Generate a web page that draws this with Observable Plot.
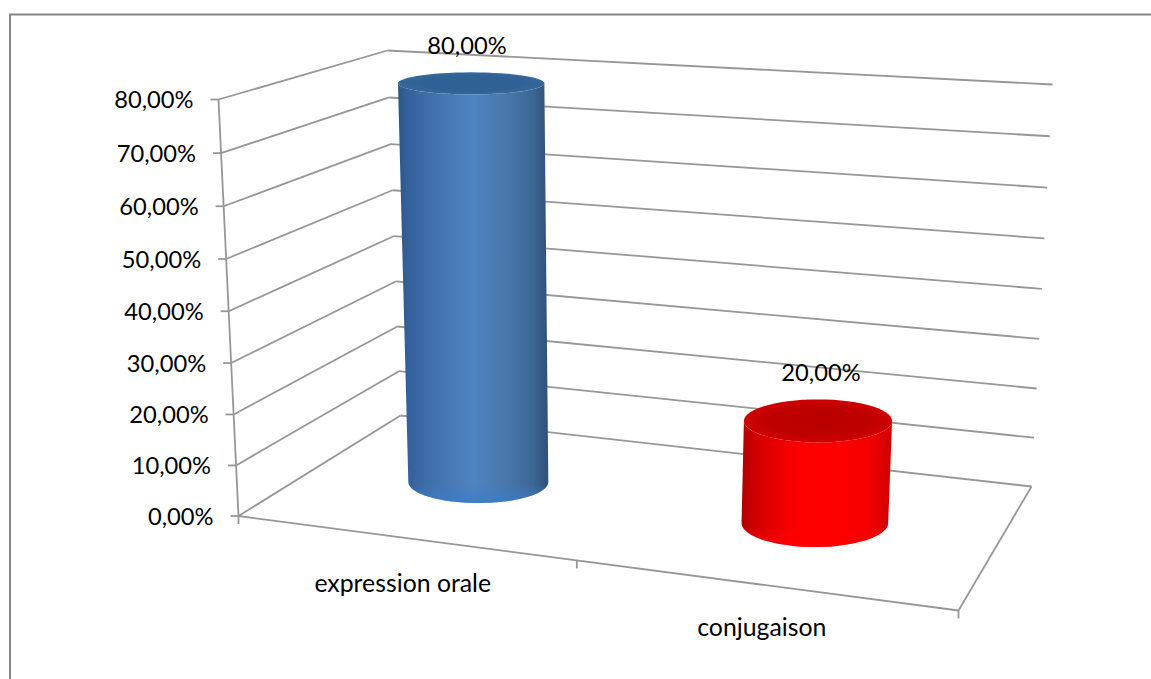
<!DOCTYPE html>
<html>
<head>
<meta charset="utf-8">
<script src="https://cdn.jsdelivr.net/npm/d3@7"></script>
<script src="https://cdn.jsdelivr.net/npm/@observablehq/plot@0.6"></script>
<style>
  html, body { margin: 0; padding: 0; background: #fff; }
  #chart { width: 1151px; height: 679px; overflow: hidden; }
  svg { display: block; }
</style>
</head>
<body>
<div id="chart"></div>
<script>
// ---- data ----
const categories = ["expression orale", "conjugaison"];
const seriesValues = [80, 20];
const valueTicks = [0, 10, 20, 30, 40, 50, 60, 70, 80];
const frac = v => d3.format(".2f")(v).replace(".", ",") + "%";

// ---- 3D box layout: screen position of the box corners [x, y] ----
const floorCorners = {fl: [238, 515.5], fr: [958, 610], bl: [400, 415], br: [1031, 486]};
const topCorners   = {fl: [218, 99],    fr: [985, 150], bl: [387, 50],  br: [1052, 84]};
const warp = (t, k) => t / (t + (1 - t) * k);
const bilinear = (q, u, d) => [0, 1].map(i =>
  (1 - d) * ((1 - u) * q.fl[i] + u * q.fr[i]) + d * ((1 - u) * q.bl[i] + u * q.br[i]));
function project(c, d, v) {
  const U = warp(c, 1.128), V = warp(v / 80, 1.034);
  const a = bilinear(floorCorners, U, d), b = bilinear(topCorners, U, d);
  return {x: a[0] + (b[0] - a[0]) * V, y: a[1] + (b[1] - a[1]) * V};
}

// cylinder look: ellipse radii depend on the category and height
const catPos = i => (i + 0.5) / categories.length;
const cylDepth = 0.525;
const cylShift = [1.2, 2];
const rx0 = [70, 73.3], ry0 = [21, 24];
const rxAt = (i, v) => rx0[i] + 0.04 * v;
const ryAt = (i, v) => ry0[i] - 0.125 * v;
const sideFills = ["url(#blueSide)", "url(#redSide)"];
const topFills = ["url(#blueTop)", "url(#redTop)"];
const rimFills = ["url(#blueRim)", "url(#redRim)"];
const labelNudge = [[-3, -37], [5, -47]];
const catNudge = [[0, 47], [0, 43]];
const FONT = "Lato, Carlito, Calibri, sans-serif";
const GRID = "#979797";
const NUM_SIZE = 23.7, CAT_SIZE = 24.8;

const steps = d3.range(0, 61);
const arc = (i, v, from, to) => {
  const ctr = project(catPos(i), cylDepth, v);
  return steps.map(s => {
    const th = from + (to - from) * s / 60;
    return {x: ctr.x + cylShift[i] + rxAt(i, v) * Math.cos(th), y: ctr.y + ryAt(i, v) * Math.sin(th)};
  });
};
const sideShape = (i, v) => [...arc(i, 0, Math.PI, 0), ...arc(i, v, 0, Math.PI)];
const topShape = (i, v) => arc(i, v, 0, 2 * Math.PI);
const rimShape = i => [...arc(i, 0, Math.PI, 0), ...arc(i, 4, 0, Math.PI)];

// rows for the box
const backGrid = valueTicks.map(v => ({a: project(0, 1, v), b: project(1, 1, v)}));
const sideGrid = valueTicks.map(v => ({a: project(0, 0, v), b: project(0, 1, v)}));
const floorEdges = [
  {a: project(0, 0, 0), b: project(1, 0, 0)},
  {a: project(1, 0, 0), b: project(1, 1, 0)}
];
const segs = [...backGrid, ...sideGrid, ...floorEdges];
const axisLine = [{a: project(0, 0, 0), b: project(0, 0, 80)}];
const yTickRows = valueTicks.map(v => ({v, ...project(0, 0, v)}));
const xTickRows = [0, 0.5, 1].map(c => project(c, 0, 0));
const defs = () => {
  const s = d3.create("svg:defs");
  const lin = (id, stops) => {
    const g = s.append("linearGradient").attr("id", id);
    stops.forEach(([o, c]) => g.append("stop").attr("offset", o).attr("stop-color", c));
  };
  const rad = (id, stops) => {
    const g = s.append("radialGradient").attr("id", id);
    stops.forEach(([o, c]) => g.append("stop").attr("offset", o).attr("stop-color", c));
  };
  lin("blueSide", [[0, "#2d5686"], [0.06, "#34609a"], [0.25, "#4273ae"], [0.5, "#5084c0"], [0.72, "#4877ac"], [0.9, "#3d6694"], [1, "#2f5078"]]);
  lin("redSide", [[0, "#b00000"], [0.1, "#d20000"], [0.32, "#f80000"], [0.55, "#ff0000"], [0.85, "#f40000"], [1, "#cc0000"]]);
  rad("blueTop", [[0, "#2f6096"], [0.68, "#2f6197"], [1, "#386899"]]);
  rad("redTop", [[0, "#ba0000"], [0.66, "#be0000"], [1, "#d00000"]]);
  const vert = (id, c) => {
    const g = s.append("linearGradient").attr("id", id).attr("x1", 0).attr("x2", 0).attr("y1", 0).attr("y2", 1);
    g.append("stop").attr("offset", 0.55).attr("stop-color", c).attr("stop-opacity", 0);
    g.append("stop").attr("offset", 1).attr("stop-color", c).attr("stop-opacity", 0.85);
  };
  vert("blueRim", "#3b7cc8");
  vert("redRim", "#ff0000");
  return s.node();
};

const chart = Plot.plot({
  width: 1151, height: 679,
  margin: 0,
  style: {background: "#fff", fontFamily: FONT},
  x: {domain: [0, 1151], range: [0, 1151], axis: null},
  y: {domain: [0, 679], range: [0, 679], axis: null},
  marks: [
    defs,
    // chart-area frame
    Plot.ruleY([14], {x1: 9, x2: 1151, stroke: "#868686", strokeWidth: 2}),
    Plot.ruleX([9.5], {y1: 14, y2: 679, stroke: "#868686", strokeWidth: 2}),
    // walls and floor
    Plot.link(segs, {x1: d => d.a.x, y1: d => d.a.y, x2: d => d.b.x, y2: d => d.b.y, stroke: GRID, strokeWidth: 1.8}),
    Plot.link(axisLine, {x1: d => d.a.x, y1: d => d.a.y, x2: d => d.b.x, y2: d => d.b.y, stroke: GRID, strokeWidth: 1.8}),
    // tick marks
    Plot.link(yTickRows, {x1: d => d.x - 8, x2: "x", y1: "y", y2: "y", stroke: GRID, strokeWidth: 1.8}),
    Plot.link(xTickRows, {x1: "x", x2: "x", y1: "y", y2: d => d.y + 8, stroke: GRID, strokeWidth: 1.8}),
    // value axis labels
    Plot.text(yTickRows, {x: d => d.x - 25, y: d => d.y + 1, text: d => frac(d.v), textAnchor: "end", fontSize: NUM_SIZE, fill: "#000"}),
    // cylinders
    ...categories.flatMap((name, i) => [
      Plot.line(sideShape(i, seriesValues[i]), {x: "x", y: "y", fill: sideFills[i], stroke: "none"}),
      Plot.line(rimShape(i), {x: "x", y: "y", fill: rimFills[i], stroke: "none"}),
      Plot.line(topShape(i, seriesValues[i]), {x: "x", y: "y", fill: topFills[i], stroke: "none"})
    ]),
    // data labels
    Plot.text(categories.map((name, i) => {
      const p = project(catPos(i), cylDepth, seriesValues[i]);
      return {x: p.x + labelNudge[i][0], y: p.y + labelNudge[i][1], t: frac(seriesValues[i])};
    }), {x: "x", y: "y", text: "t", fontSize: NUM_SIZE, fill: "#000"}),
    // category labels
    Plot.text(categories.map((name, i) => {
      const p = project(catPos(i), 0, 0);
      return {x: p.x + catNudge[i][0], y: p.y + catNudge[i][1], t: name};
    }), {x: "x", y: "y", text: "t", fontSize: CAT_SIZE, fill: "#000"})
  ]
});
document.getElementById("chart").appendChild(chart);
</script>
</body>
</html>
